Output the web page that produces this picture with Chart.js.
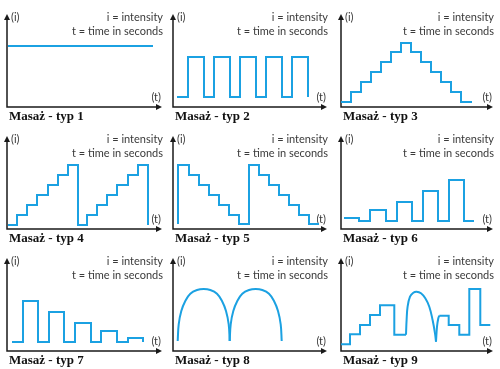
<!DOCTYPE html>
<html>
<head>
<meta charset="utf-8">
<script src="https://cdn.jsdelivr.net/npm/chart.js@4.4.1/dist/chart.umd.min.js"></script>
<style>
  html, body { margin: 0; padding: 0; background: #fff; }
  #grid { position: relative; width: 500px; height: 369px; }
  .cell { position: absolute; }
</style>
</head>
<body>
<div id="grid"></div>
<script>
// texts
const titles = ["Masaż - typ 1", "Masaż - typ 2", "Masaż - typ 3", "Masaż - typ 4", "Masaż - typ 5",
  "Masaż - typ 6", "Masaż - typ 7", "Masaż - typ 8", "Masaż - typ 9"];
const noteLines = ["i = intensity", "t = time in seconds"];
const axisLabels = ["(i)", "(t)"];

// time (t) and intensity (i)
const typ1Time = [0.1, 14.6];
const typ1Level = [6.1, 6.1];

const typ2Time = [0.4, 1.5, 3.1, 4.1, 5.7, 6.7, 8.3, 9.3, 10.9, 11.9, 13.5];
const typ2Level = [1, 5, 1, 5, 1, 5, 1, 5, 1, 5, 1];

const typ3Time = [0, 1, 2, 3, 4, 5, 6, 7, 8, 9, 10, 11, 12, 13.1];
const typ3Level = [0.5, 1.5, 2.5, 3.5, 4.5, 5.5, 6.4, 5.5, 4.5, 3.5, 2.5, 1.5, 0.5, 0.5];

const typ4Time = [0.1, 1.0, 2.0, 3.0, 4.1, 5.1, 6.1, 7.1, 8.0, 9.0, 10.0, 11.0, 12.1, 13.1, 14.1];
const typ4Level = [0.4, 1.4, 2.4, 3.4, 4.4, 5.4, 6.4, 0.4, 1.4, 2.4, 3.4, 4.4, 5.4, 6.4, 0.4];

const typ5Time = [0.5, 0.5, 1.6, 2.6, 3.6, 4.6, 5.6, 6.6, 7.6, 8.6, 9.6, 10.6, 11.6, 12.6, 13.6, 14.6];
const typ5Level = [0.5, 6.4, 5.4, 4.4, 3.4, 2.4, 1.4, 0.5, 6.4, 5.4, 4.4, 3.4, 2.4, 1.4, 0.5, 0.5];

const typ6Time = [0.3, 1.8, 2.9, 4.5, 5.6, 7.1, 8.2, 9.7, 10.8, 12.3, 13.3];
const typ6Level = [1.1, 0.8, 1.9, 0.8, 2.7, 0.8, 3.8, 0.8, 4.9, 0.8, 0.8];

const typ7Time = [0.5, 1.6, 3.1, 4.2, 5.7, 6.8, 8.4, 9.4, 11.0, 12.1, 13.6];
const typ7Level = [0.9, 5.0, 0.9, 3.9, 0.9, 2.8, 0.9, 2.0, 0.9, 1.3, 0.9];

const typ8ArcATime = [0.47, 0.57, 0.83, 1.23, 1.73, 2.4, 3.07, 3.73, 4.4, 4.9, 5.3, 5.57, 5.67];
const typ8ArcBTime = [5.67, 5.77, 6.03, 6.43, 6.93, 7.6, 8.27, 8.93, 9.6, 10.1, 10.5, 10.77, 10.87];
const typ8ArcLevel = [1.0, 2.67, 4.0, 5.0, 5.73, 6.1, 6.2, 6.1, 5.73, 5.0, 4.0, 2.67, 1.0];

const typ9StepATime = [0, 0.9, 1.9, 2.9, 3.9, 5.33, 6.5];
const typ9StepALevel = [0.67, 1.67, 2.6, 3.6, 4.57, 1.63, 1.63];
const typ9ArcTime = [6.5, 6.56, 6.66, 6.9, 7.23, 7.56, 8.0, 8.43, 8.83, 9.16, 9.4, 9.5];
const typ9ArcLevel = [1.63, 3.1, 4.43, 5.43, 5.83, 5.93, 5.77, 5.27, 4.43, 3.1, 1.77, 0.93];
const typ9RiseTime = [9.5, 9.6, 9.73, 9.83];
const typ9RiseLevel = [0.93, 2.43, 3.27, 3.53];
const typ9StepBTime = [9.83, 10.77, 11.83, 12.83, 13.93, 14.93];
const typ9StepBLevel = [3.53, 2.6, 1.63, 6.2, 2.6, 2.6];

const lineColor = "#1ba1e2";

const pts = (times, levels) => times.map((t, i) => ({ x: t, y: levels[i] }));
const stepSet = (times, levels) => ({ data: pts(times, levels), stepped: true, tension: 0 });
const curveSet = (times, levels) => ({ data: pts(times, levels), stepped: false, tension: 0.4 });
const flatSet = (times, levels) => ({ data: pts(times, levels), stepped: false, tension: 0 });

const panels = [
  [flatSet(typ1Time, typ1Level)],
  [stepSet(typ2Time, typ2Level)],
  [stepSet(typ3Time, typ3Level)],
  [stepSet(typ4Time, typ4Level)],
  [stepSet(typ5Time, typ5Level)],
  [stepSet(typ6Time, typ6Level)],
  [stepSet(typ7Time, typ7Level)],
  [curveSet(typ8ArcATime, typ8ArcLevel), curveSet(typ8ArcBTime, typ8ArcLevel)],
  [stepSet(typ9StepATime, typ9StepALevel), curveSet(typ9ArcTime, typ9ArcLevel),
   curveSet(typ9RiseTime, typ9RiseLevel), stepSet(typ9StepBTime, typ9StepBLevel)],
];

// axes with arrows, notes and the title under each plot
const massagePlugin = {
  id: "massage",
  beforeDatasetsDraw(chart, args, opts) {
    const { ctx } = chart;
    const { left, right, top, bottom } = chart.chartArea;
    ctx.save();
    ctx.strokeStyle = "#1a1a1a";
    ctx.fillStyle = "#1a1a1a";
    ctx.lineWidth = 1.5;
    ctx.beginPath();
    ctx.moveTo(left, top + 4);
    ctx.lineTo(left, bottom);
    ctx.lineTo(right - 4, bottom);
    ctx.stroke();
    ctx.beginPath();
    ctx.moveTo(left, top);
    ctx.lineTo(left - 3, top + 6);
    ctx.lineTo(left + 3, top + 6);
    ctx.closePath();
    ctx.fill();
    ctx.beginPath();
    ctx.moveTo(right, bottom);
    ctx.lineTo(right - 6, bottom - 3);
    ctx.lineTo(right - 6, bottom + 3);
    ctx.closePath();
    ctx.fill();

    ctx.font = "11px Lato";
    ctx.fillStyle = "#3a3a3a";
    ctx.textBaseline = "middle";
    ctx.textAlign = "left";
    ctx.fillText(axisLabels[0], left + 4, top + 3);
    ctx.textAlign = "right";
    ctx.fillText(noteLines[0], right + 1, top + 3);
    ctx.fillText(noteLines[1], right + 1, top + 17);
    ctx.fillText(axisLabels[1], right - 1, bottom - 10);

    ctx.font = "bold 13px 'Liberation Serif'";
    ctx.fillStyle = "#111";
    ctx.textAlign = "left";
    ctx.fillText(opts.title, left + 2, bottom + 10);
    ctx.restore();
  },
};

const colLeft = [0, 166, 334];
const colRightPad = [4, 5, 7];
const cellW = 166, cellH = 123;
const grid = document.querySelector("#grid");

panels.forEach((datasets, i) => {
  const col = i % 3, row = Math.floor(i / 3);
  const canvasEl = document.createElement("canvas");
  canvasEl.className = "cell";
  canvasEl.width = cellW;
  canvasEl.height = cellH;
  canvasEl.style.left = colLeft[col] + "px";
  canvasEl.style.top = row * 122 + "px";
  grid.appendChild(canvasEl);

  const padding = { left: 7, right: colRightPad[col], top: 14, bottom: 16 };
  const plotW = cellW - padding.left - padding.right;

  new Chart(canvasEl, {
    type: "line",
    data: {
      datasets: datasets.map((d) => ({
        ...d,
        borderColor: lineColor,
        borderWidth: 2,
        pointRadius: 0,
        fill: false,
        clip: false,
      })),
    },
    options: {
      responsive: false,
      animation: false,
      events: [],
      layout: { padding },
      scales: {
        x: { type: "linear", display: false, min: 0, max: plotW / 10 },
        y: { display: false, min: 0, max: 9.3 },
      },
      plugins: {
        legend: { display: false },
        tooltip: { enabled: false },
        massage: { title: titles[i] },
      },
    },
    plugins: [massagePlugin],
  });
});
</script>
</body>
</html>
